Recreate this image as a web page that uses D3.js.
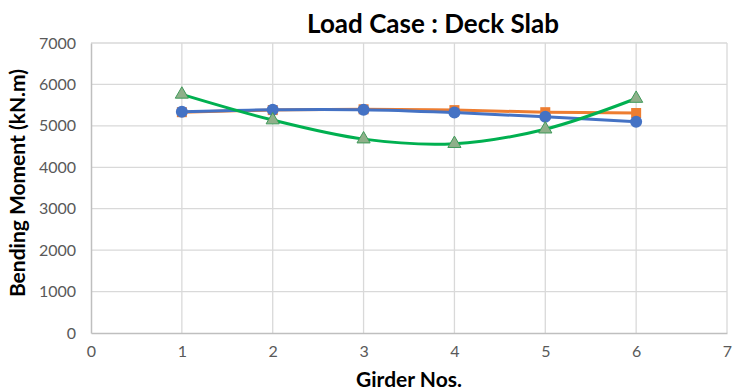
<!DOCTYPE html>
<html><head><meta charset="utf-8">
<script src="https://cdn.jsdelivr.net/npm/d3@7"></script>
<style>body{margin:0;background:#fff}svg{display:block}text{font-family:Lato,"Open Sans",sans-serif}</style>
</head><body>
<svg id="c" width="735" height="392"></svg>
<script>
const girders = [1, 2, 3, 4, 5, 6];
const seriesOrange = [5330, 5380, 5400, 5380, 5330, 5310];
const seriesBlue = [5340, 5390, 5390, 5320, 5220, 5100];
const seriesGreen = [5760, 5140, 4680, 4570, 4920, 5660];
const xTicks = [0, 1, 2, 3, 4, 5, 6, 7];
const yTicks = [0, 1000, 2000, 3000, 4000, 5000, 6000, 7000];

const svg = d3.select("#c");
const x = d3.scaleLinear().domain([0, 7]).range([91, 727]);
const y = d3.scaleLinear().domain([0, 7000]).range([333, 43]);

// gridlines
svg.append("g").selectAll("line").data(yTicks.slice(1)).join("line")
  .attr("x1", x(0)).attr("x2", x(7)).attr("y1", d => y(d)).attr("y2", d => y(d))
  .attr("stroke", "#d9d9d9").attr("stroke-width", 1.3);
svg.append("g").selectAll("line").data(xTicks.slice(1)).join("line")
  .attr("x1", d => x(d)).attr("x2", d => x(d)).attr("y1", y(0)).attr("y2", y(7000))
  .attr("stroke", "#d9d9d9").attr("stroke-width", 1.3);

// axes
const xAxis = svg.append("g").attr("transform", `translate(0,${y(0)})`)
  .call(d3.axisBottom(x).tickValues(xTicks).tickFormat(d3.format("d")).tickSize(0).tickPadding(13));
const yAxis = svg.append("g").attr("transform", `translate(${x(0)},0)`)
  .call(d3.axisLeft(y).tickValues(yTicks).tickFormat(d3.format("d")).tickSize(0).tickPadding(15));
[xAxis, yAxis].forEach(a => {
  a.select(".domain").attr("stroke", "#bfbfbf").attr("stroke-width", 1.5);
  a.selectAll("text").attr("fill", "#595959").style("font-size", "16px").style("font-family", "Lato, sans-serif");
});

const line = d3.line().x((d, i) => x(girders[i])).y(d => y(d)).curve(d3.curveCatmullRom.alpha(0.5));

const series = [
  {vals: seriesOrange, color: "#ED7D31", marker: "square"},
  {vals: seriesBlue, color: "#4472C4", marker: "circle"},
  {vals: seriesGreen, color: "#00B050", marker: "triangle"}
];
series.forEach(s => {
  svg.append("path").datum(s.vals).attr("d", line).attr("fill", "none")
    .attr("stroke", s.color).attr("stroke-width", 3);
});
series.forEach(s => {
  const g = svg.append("g");
  if (s.marker === "square") {
    g.selectAll("rect").data(s.vals).join("rect")
      .attr("x", (d, i) => x(girders[i]) - 5).attr("y", d => y(d) - 5)
      .attr("width", 10).attr("height", 10).attr("fill", "#ED7D31");
  } else if (s.marker === "circle") {
    g.selectAll("circle").data(s.vals).join("circle")
      .attr("cx", (d, i) => x(girders[i])).attr("cy", d => y(d)).attr("r", 6)
      .attr("fill", "#4472C4");
  } else {
    const tri = d3.symbol().type(d3.symbolTriangle).size(75);
    g.selectAll("path").data(s.vals).join("path")
      .attr("transform", (d, i) => `translate(${x(girders[i])},${y(d)})`)
      .attr("d", tri).attr("fill", "#8fb08a").attr("stroke", "#3f9a5a").attr("stroke-width", 1);
  }
});

svg.append("text").attr("x", 433).attr("y", 33).attr("text-anchor", "middle")
  .style("font-size", "26px").style("font-weight", "bold").attr("fill", "#000").text("Load Case : Deck Slab");
svg.append("text").attr("x", 409).attr("y", 387).attr("text-anchor", "middle")
  .style("font-size", "21px").style("font-weight", "bold").attr("fill", "#000").text("Girder Nos.");
svg.append("text").attr("transform", "translate(25,183) rotate(-90)").attr("text-anchor", "middle")
  .style("font-size", "21px").style("font-weight", "bold").attr("fill", "#000").text("Bending Moment (kN.m)");
</script>
</body></html>
